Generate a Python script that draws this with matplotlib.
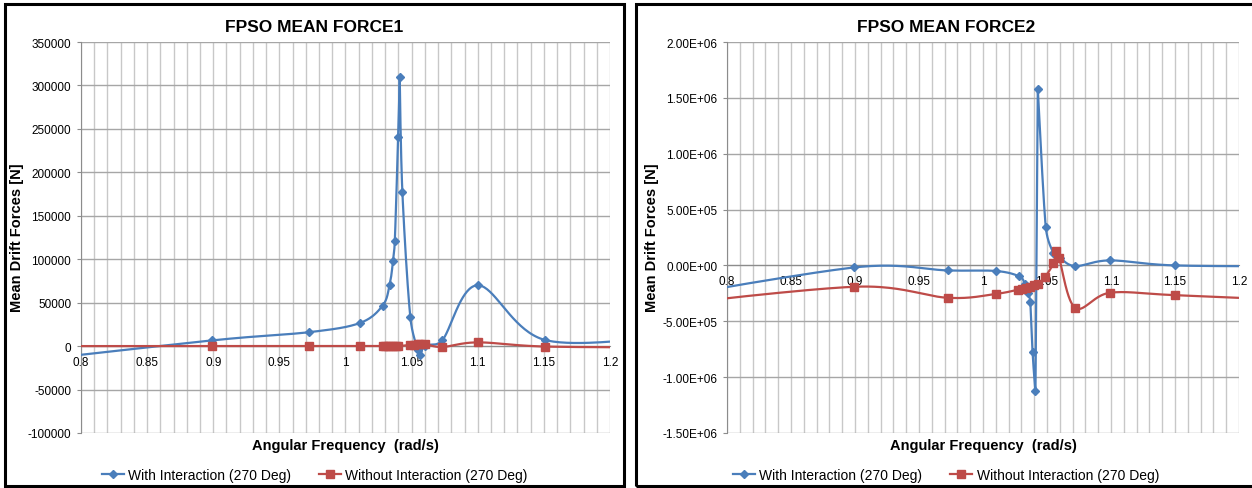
import numpy as np
import matplotlib.pyplot as plt
from matplotlib.lines import Line2D
from matplotlib.patches import Rectangle

plt.rcParams['font.family'] = ['Liberation Sans', 'DejaVu Sans']

# ---- data: FPSO mean drift forces, 270 deg heading ----
f1_with_x = [0.70, 0.8987, 0.9723, 1.0107, 1.0280, 1.0333, 1.0359, 1.0373, 1.0398, 1.0410,
             1.0430, 1.0490, 1.0548, 1.0566, 1.0600, 1.0731, 1.1000, 1.1510, 1.25]
f1_with_y = [-27000, 6500, 16000, 26500, 46500, 70000, 97500, 121500, 241000, 310000,
             177500, 33500, -5000, -10500, 500, 6500, 70000, 7000, 12000]

f1_wo_x = [0.70, 0.8987, 0.9723, 1.0107, 1.0280, 1.0300, 1.0320, 1.0340, 1.0360, 1.0380,
           1.0400, 1.0490, 1.0520, 1.0548, 1.0566, 1.0600, 1.0731, 1.1000, 1.1510, 1.25]
f1_wo_y = [0, 0, 0, 0, 0, 0, 0, 0, 0, 0,
           0, 1500, 1800, 2000, 2500, 2500, -1000, 4300, -500, -1500]

f2_with_x = [0.70, 0.8995, 0.9728, 1.0105, 1.0285, 1.0326, 1.0352, 1.0369, 1.0387, 1.0410,
             1.0428, 1.0490, 1.0549, 1.0600, 1.0721, 1.0990, 1.1498, 1.25]
f2_with_y = [-390000, -18000, -45000, -50000, -99000, -164000, -245000, -326000, -771000, -1121000,
             1578000, 347000, 114000, 69000, -6000, 45000, 0, -8000]

f2_wo_x = [0.70, 0.8995, 0.9728, 1.0105, 1.0272, 1.0308, 1.0338, 1.0369, 1.0395, 1.0426,
           1.0482, 1.0549, 1.0570, 1.0595, 1.0721, 1.0990, 1.1498, 1.25]
f2_wo_y = [-420000, -191000, -290000, -254000, -218000, -212000, -200000, -191000, -179000, -164000,
           -108000, 18000, 128000, 63000, -380000, -245000, -266000, -315000]

x_ticks = [0.8, 0.85, 0.9, 0.95, 1.0, 1.05, 1.1, 1.15, 1.2]
x_labels = ['0.8', '0.85', '0.9', '0.95', '1', '1.05', '1.1', '1.15', '1.2']
f1_yticks = list(range(-100000, 350001, 50000))
f2_yticks = [-1.5e6, -1.0e6, -5.0e5, 0.0, 5.0e5, 1.0e6, 1.5e6, 2.0e6]

series_names = ['With Interaction (270 Deg)', 'Without Interaction (270 Deg)']
BLUE = '#4A7EBB'
RED = '#BE4B48'

W, H = 1252, 489


def smooth(xs, ys, xlim, ylim, w, h, n=40):
    """Bezier smoothing through the points, worked out in pixel space."""
    P = np.column_stack([(np.asarray(xs) - xlim[0]) / (xlim[1] - xlim[0]) * w,
                         (np.asarray(ys) - ylim[0]) / (ylim[1] - ylim[0]) * h])
    m = len(P)
    fwd = np.zeros_like(P)
    bwd = np.zeros_like(P)
    for k in range(m):
        a = P[max(k - 1, 0)]
        b = P[min(k + 1, m - 1)]
        p = P[k]
        t = (b - a) / 6.0
        v1, v2 = p - a, b - p
        n1, n2 = np.linalg.norm(v1), np.linalg.norm(v2)
        f = 1.0
        if n1 > 0 and n2 > 0:
            ang = np.degrees(np.arccos(np.clip(np.dot(v1, v2) / (n1 * n2), -1, 1)))
            if ang > 120:
                f = (180 - ang) / 60.0
        t = t * f
        tl = np.linalg.norm(t)
        fwd[k] = t * min(1.0, 0.5 * n2 / tl) if tl > 0 else t
        bwd[k] = t * min(1.0, 0.5 * n1 / tl) if tl > 0 else t
    s = np.linspace(0, 1, n)[:, None]
    pts = []
    for i in range(m - 1):
        p1, p2 = P[i], P[i + 1]
        c1, c2 = p1 + fwd[i], p2 - bwd[i + 1]
        seg = ((1 - s) ** 3) * p1 + 3 * ((1 - s) ** 2) * s * c1 + 3 * (1 - s) * s ** 2 * c2 + s ** 3 * p2
        pts.append(seg if i == 0 else seg[1:])
    pts = np.vstack(pts)
    return (pts[:, 0] / w * (xlim[1] - xlim[0]) + xlim[0],
            pts[:, 1] / h * (ylim[1] - ylim[0]) + ylim[0])


fig = plt.figure(figsize=(W / 100, H / 100), dpi=100)

# panel frames
for x0, x1 in [(5, 624), (636, 1262)]:
    fig.patches.append(Rectangle((x0 / W, 1 - 487 / H), (x1 - x0) / W, 482 / H,
                                 transform=fig.transFigure, fill=False,
                                 ec='black', lw=2.2))

panels = [
    dict(box=(81, 43, 610, 434), title='FPSO MEAN FORCE1', cx=314.5, ylab_x=17,
         ylim=(-100000, 350000), yticks=f1_yticks, fmt=lambda v: '%d' % v,
         wx=f1_with_x, wy=f1_with_y, ox=f1_wo_x, oy=f1_wo_y),
    dict(box=(727, 43, 1239, 434), title='FPSO MEAN FORCE2', cx=946, ylab_x=652,
         ylim=(-1.5e6, 2.0e6), yticks=f2_yticks, fmt=lambda v: '%.2E' % v,
         wx=f2_with_x, wy=f2_with_y, ox=f2_wo_x, oy=f2_wo_y),
]

xlim = (0.8, 1.2)
for p in panels:
    x0, y0, x1, y1 = p['box']
    ax = fig.add_axes([x0 / W, 1 - y1 / H, (x1 - x0) / W, (y1 - y0) / H])
    ax.set_xlim(*xlim)
    ax.set_ylim(*p['ylim'])

    ax.set_xticks(x_ticks)
    ax.set_xticklabels(x_labels)
    ax.set_xticks(np.arange(0.8, 1.2001, 0.01), minor=True)
    ax.set_yticks(p['yticks'])
    ax.set_yticklabels([p['fmt'](v) for v in p['yticks']])
    ax.grid(True, axis='x', which='both', color='#C8C8C8', lw=1)
    ax.grid(True, axis='y', which='major', color='#A6A6A6', lw=1)
    ax.set_axisbelow(True)

    for side in ['top', 'right']:
        ax.spines[side].set_visible(False)
    ax.spines['bottom'].set_position(('data', 0))
    ax.spines['bottom'].set_color('#8C8C8C')
    ax.spines['left'].set_color('#8C8C8C')
    ax.tick_params(axis='x', which='both', length=0, pad=7, labelsize=8.5)
    ax.tick_params(axis='y', length=3, color='#8C8C8C', pad=4, labelsize=8.5)

    w, h = x1 - x0, y1 - y0
    sx, sy = smooth(p['wx'], p['wy'], xlim, p['ylim'], w, h)
    ax.plot(sx, sy, color=BLUE, lw=1.6, zorder=3)
    ax.plot(p['wx'], p['wy'], ls='none', marker='D', ms=4.5, color=BLUE, zorder=4)
    sx, sy = smooth(p['ox'], p['oy'], xlim, p['ylim'], w, h)
    ax.plot(sx, sy, color=RED, lw=1.6, zorder=5)
    ax.plot(p['ox'], p['oy'], ls='none', marker='s', ms=6, color=RED, zorder=6)

    ax.set_xlabel('Angular Frequency  (rad/s)', fontweight='bold', fontsize=10.5)
    ax.xaxis.set_label_coords(0.5, (y1 - 446) / (y1 - y0))
    ax.xaxis.label.set_va('center')

    fig.text(p['cx'] / W, 1 - 28 / H, p['title'], ha='center', va='center',
             fontweight='bold', fontsize=12.5)
    fig.text(p['ylab_x'] / W, 1 - 238 / H, 'Mean Drift Forces [N]', rotation=90,
             ha='center', va='center', fontweight='bold', fontsize=10.5)

    handles = [Line2D([], [], color=BLUE, lw=1.6, marker='D', ms=4.5),
               Line2D([], [], color=RED, lw=1.6, marker='s', ms=6)]
    fig.legend(handles, series_names, loc='center', ncol=2,
               bbox_to_anchor=(p['cx'] / W, 1 - 476 / H), frameon=False,
               fontsize=10, handlelength=1.6, handletextpad=0.3, columnspacing=2.0)

fig.savefig('out.png', dpi=100)
